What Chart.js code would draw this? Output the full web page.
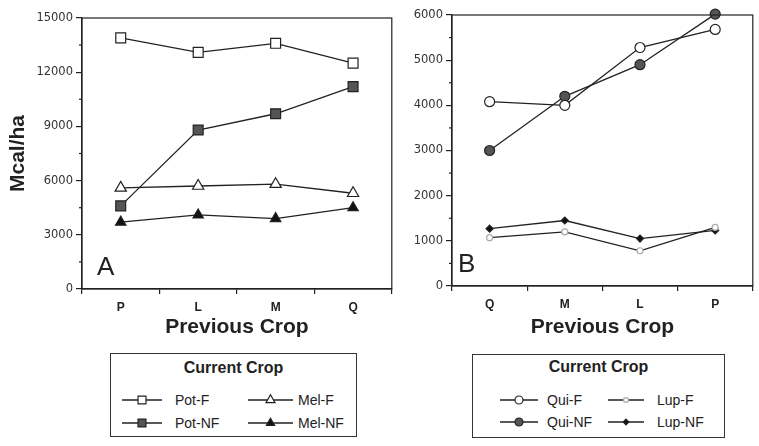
<!DOCTYPE html>
<html>
<head>
<meta charset="utf-8">
<script src="https://cdn.jsdelivr.net/npm/chart.js@4.4.1/dist/chart.umd.min.js"></script>
<style>
    body { margin: 0; background: #fff; }
    #wrap { position: relative; width: 759px; height: 446px; overflow: hidden; font-family: "Liberation Sans", Arial, sans-serif; color: #222; }
    canvas.plot { position: absolute; top: 0; }
    .legend { position: absolute; border: 1px solid #333; box-sizing: border-box; }
    .legend .ttl { position: absolute; left: 0; right: 0; text-align: center; font-weight: bold; font-size: 16px; }
    .legend .item { position: absolute; font-size: 14px; line-height: 16px; }
    .legend canvas { position: absolute; }
</style>
</head>
<body>
<div id="wrap">
    <canvas id="chartA" class="plot" style="left:0"></canvas>
    <canvas id="chartB" class="plot" style="left:400px"></canvas>
    <div id="legendA" class="legend" style="left:110px;top:353px;width:247px;height:84px"></div>
    <div id="legendB" class="legend" style="left:472px;top:354px;width:253px;height:84px"></div>
</div>
<script>
// Panel A - previous crop order P, L, M, Q
const cropsA = ['P', 'L', 'M', 'Q'];
const potF = [13900, 13100, 13600, 12500];
const potNF = [4600, 8800, 9700, 11200];
const melF = [5600, 5700, 5800, 5300];
const melNF = [3700, 4100, 3900, 4500];

// Panel B - previous crop order Q, M, L, P
const cropsB = ['Q', 'M', 'L', 'P'];
const quiF = [4080, 4000, 5280, 5680];
const quiNF = [3000, 4200, 4900, 6020];
const lupF = [1070, 1200, 780, 1300];
const lupNF = [1270, 1450, 1050, 1230];

const ink = '#222';
const tickFont = { family: '"DejaVu Sans", sans-serif', size: 11.5 };

function series(label, data, style, radius, fill, stroke) {
    return {
        label: label,
        data: data,
        borderColor: ink,
        borderWidth: 1.3,
        pointStyle: style,
        pointRadius: radius,
        pointHoverRadius: radius,
        pointBackgroundColor: fill,
        pointBorderColor: stroke || ink,
        pointBorderWidth: 1.2,
        tension: 0,
        clip: false
    };
}

// box around the plot, short minor ticks on the y axis and panel letter
const panelDeco = {
    id: 'panelDeco',
    afterDraw(chart, args, opts) {
        const { ctx, chartArea: a } = chart;
        const y = chart.scales.y;
        ctx.save();
        ctx.strokeStyle = ink;
        ctx.lineWidth = 1.2;
        ctx.strokeRect(a.left, a.top, a.right - a.left, a.bottom - a.top);
        const step = opts.minorStep;
        for (let v = step / 2; v < y.max; v += step) {
            const py = y.getPixelForValue(v);
            ctx.beginPath();
            ctx.moveTo(a.left - 3, py);
            ctx.lineTo(a.left, py);
            ctx.stroke();
        }
        ctx.fillStyle = ink;
        ctx.font = '26px "Liberation Sans", Arial, sans-serif';
        ctx.textBaseline = 'alphabetic';
        ctx.fillText(opts.letter, a.left + opts.dx, a.bottom - 14);
        ctx.restore();
    }
};

function makeChart(id, width, cats, datasets, yMax, step, yWidth, xHeight, padding, yTitle, letter, dx) {
    const el = document.getElementById(id);
    el.width = width;
    el.height = 345;
    el.style.width = width + 'px';
    el.style.height = '345px';
    return new Chart(el, {
        type: 'line',
        data: { labels: cats, datasets: datasets },
        options: {
            responsive: false,
            animation: false,
            devicePixelRatio: 1,
            layout: { padding: padding },
            plugins: {
                legend: { display: false },
                tooltip: { enabled: false },
                panelDeco: { letter: letter, dx: dx, minorStep: step }
            },
            scales: {
                x: {
                    offset: true,
                    grid: { offset: true, drawOnChartArea: false, tickLength: 5, color: ink, lineWidth: 1.2 },
                    border: { color: ink, width: 1.2 },
                    ticks: { color: ink, padding: 6, font: { family: '"Liberation Sans", Arial, sans-serif', size: 12, weight: 'bold' } },
                    title: {
                        display: true,
                        text: 'Previous Crop',
                        color: ink,
                        font: { family: '"Liberation Sans", Arial, sans-serif', size: 21, weight: 'bold' },
                        padding: { top: 0, bottom: 5 }
                    },
                    afterFit: s => { s.height = xHeight; }
                },
                y: {
                    min: 0,
                    max: yMax,
                    grid: { drawOnChartArea: false, tickLength: 6, color: ink, lineWidth: 1.2 },
                    border: { color: ink, width: 1.2 },
                    ticks: { stepSize: step, color: '#333', padding: 3, font: tickFont, callback: v => String(v) },
                    title: {
                        display: !!yTitle,
                        text: yTitle,
                        color: ink,
                        font: { family: '"Liberation Sans", Arial, sans-serif', size: 21, weight: 'bold' },
                        padding: { top: 6, bottom: 0 }
                    },
                    afterFit: s => { s.width = yWidth; }
                }
            }
        },
        plugins: [panelDeco]
    });
}

function drawMarker(ctx, style, x, y, r) {
    ctx.beginPath();
    if (style === 'rect') {
        const s = Math.SQRT1_2 * r;
        ctx.rect(x - s, y - s, 2 * s, 2 * s);
    } else if (style === 'triangle') {
        let rad = 0;
        ctx.moveTo(x + Math.sin(rad) * r, y - Math.cos(rad) * r);
        for (let k = 0; k < 2; k++) {
            rad += Math.PI * 2 / 3;
            ctx.lineTo(x + Math.sin(rad) * r, y - Math.cos(rad) * r);
        }
        ctx.closePath();
    } else if (style === 'rectRot') {
        ctx.moveTo(x, y - r);
        ctx.lineTo(x + r, y);
        ctx.lineTo(x, y + r);
        ctx.lineTo(x - r, y);
        ctx.closePath();
    } else {
        ctx.arc(x, y, r, 0, Math.PI * 2);
    }
}

function buildLegend(chart, boxId, boxLeft, boxTop, cols, rows, titleY) {
    const box = document.getElementById(boxId);
    const ttl = document.createElement('div');
    ttl.className = 'ttl';
    ttl.textContent = 'Current Crop';
    ttl.style.top = (titleY - boxTop - 10) + 'px';
    box.appendChild(ttl);
    chart.data.datasets.forEach((ds, i) => {
        const col = cols[Math.floor(i / 2)];
        const rowY = rows[i % 2] - boxTop - 1;
        const cv = document.createElement('canvas');
        cv.width = col.mw;
        cv.height = 16;
        cv.style.left = (col.mx - boxLeft - 1) + 'px';
        cv.style.top = (rowY - 8) + 'px';
        box.appendChild(cv);
        const c = cv.getContext('2d');
        c.strokeStyle = ds.borderColor;
        c.lineWidth = 1.3;
        c.beginPath();
        c.moveTo(0, 8);
        c.lineTo(col.mw, 8);
        c.stroke();
        drawMarker(c, ds.pointStyle, col.mw / 2, 8, ds.pointRadius * 0.8);
        c.fillStyle = ds.pointBackgroundColor;
        c.fill();
        c.strokeStyle = ds.pointBorderColor;
        c.lineWidth = ds.pointBorderWidth;
        c.stroke();
        const t = document.createElement('div');
        t.className = 'item';
        t.textContent = ds.label;
        t.style.left = (col.tx - boxLeft - 1) + 'px';
        t.style.top = (rowY - 8) + 'px';
        box.appendChild(t);
    });
}

const chartA = makeChart('chartA', 400, cropsA, [
    series('Pot-F', potF, 'rect', 7, '#fff'),
    series('Pot-NF', potNF, 'rect', 7, '#555'),
    series('Mel-F', melF, 'triangle', 6.5, '#fff'),
    series('Mel-NF', melNF, 'triangle', 6, '#111')
], 15000, 3000, 82, 56, { left: 0, right: 5, top: 18, bottom: 0 }, 'Mcal/ha', 'A', 15);

const chartB = makeChart('chartB', 359, cropsB, [
    series('Qui-F', quiF, 'circle', 5, '#fff'),
    series('Qui-NF', quiNF, 'circle', 5, '#555'),
    series('Lup-F', lupF, 'circle', 3, '#fff', '#aaa'),
    series('Lup-NF', lupNF, 'rectRot', 3.5, '#111')
], 6000, 1000, 52, 59, { left: 0, right: 0, top: 15, bottom: 0 }, '', 'B', 6);

buildLegend(chartA, 'legendA', 110, 353,
    [{ mx: 122, mw: 40, tx: 175 }, { mx: 248, mw: 45, tx: 298 }], [400, 423], 368);
buildLegend(chartB, 'legendB', 472, 354,
    [{ mx: 500, mw: 38, tx: 547 }, { mx: 608, mw: 36, tx: 657 }], [400, 422], 367);
</script>
</body>
</html>
